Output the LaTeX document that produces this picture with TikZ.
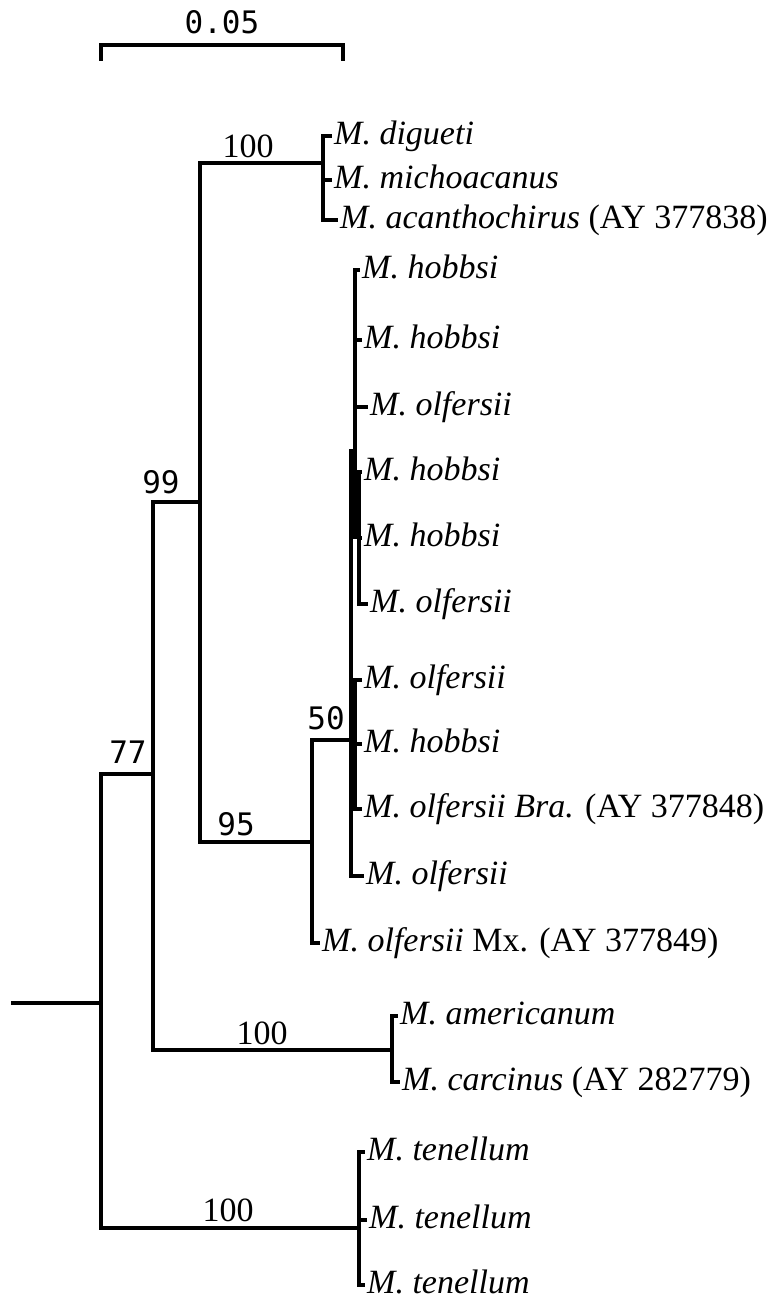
\documentclass[tikz,border=0pt]{standalone}
\usepackage{fontspec}
\setmainfont{Liberation Serif}
\newfontfamily\monofnt{DejaVu Sans Mono}
\begin{document}
\begin{tikzpicture}[x=1pt,y=-1pt,
  br/.style={line width=3.4pt,line cap=rect,line join=miter},
  leaf/.style={anchor=west,inner xsep=4pt,inner ysep=0pt,font=\fontsize{34}{38}\selectfont,text height=22pt,text depth=6pt},
  bsm/.style={font=\monofnt\fontsize{31}{34}\selectfont,inner sep=0pt},
  bss/.style={font=\fontsize{34}{36}\selectfont,inner sep=0pt}]
\useasboundingbox (0,0) rectangle (774,1301);
% scale bar
\coordinate (sb1) at (101,45); \coordinate (sb2) at (343,45);
\draw[br] ([yshift=-14]sb1) -- (sb1) -- (sb2) -- ([yshift=-14]sb2);
\node[bsm] (sbl) at (222,22) {0.05};
% internal nodes
\coordinate (rs) at (13,1003);
\coordinate (r) at (101,1003);
\coordinate (n77) at (153,774);
\coordinate (n99) at (200,502);
\coordinate (dig) at (323,163);
\coordinate (n95) at (312,842);
\coordinate (n50) at (351,740);
\coordinate (A) at (355,451);
\coordinate (A2) at (359,537);
\coordinate (B) at (355,743);
\coordinate (amer) at (392,1050);
\coordinate (ten) at (359,1228);
% leaves
\node[leaf] (l1) at (330,136) {\textit{M. digueti}};
\node[leaf] (l2) at (330,180) {\textit{M. michoacanus}};
\node[leaf] (l3) at (336,220) {\textit{M. acanthochirus} (AY 377838)};
\node[leaf] (h1) at (358,270) {\textit{M. hobbsi}};
\node[leaf] (h2) at (360,340) {\textit{M. hobbsi}};
\node[leaf] (h3) at (366,407) {\textit{M. olfersii}};
\node[leaf] (h4) at (360,472) {\textit{M. hobbsi}};
\node[leaf] (h5) at (360,538) {\textit{M. hobbsi}};
\node[leaf] (h6) at (366,604) {\textit{M. olfersii}};
\node[leaf] (b1) at (360,680) {\textit{M. olfersii}};
\node[leaf] (b2) at (360,744) {\textit{M. hobbsi}};
\node[leaf] (b3) at (360,809) {\textit{M. olfersii Bra.} (AY 377848)};
\node[leaf] (o1) at (362,876) {\textit{M. olfersii}};
\node[leaf] (mx) at (318,943) {\textit{M. olfersii} Mx. (AY 377849)};
\node[leaf] (am1) at (396,1016) {\textit{M. americanum}};
\node[leaf] (am2) at (398,1082) {\textit{M. carcinus} (AY 282779)};
\node[leaf] (t1) at (363,1152) {\textit{M. tenellum}};
\node[leaf] (t2) at (365,1220) {\textit{M. tenellum}};
\node[leaf] (t3) at (363,1285) {\textit{M. tenellum}};
% branches
\draw[br] (rs) -- (r);
\draw[br] (r) |- (n77);
\draw[br] (r) |- (ten);
\draw[br] (n77) |- (n99);
\draw[br] (n77) |- (amer);
\draw[br] (n99) |- (dig);
\draw[br] (n99) |- (n95);
\draw[br] (dig) |- (l1.west);
\draw[br] (dig) |- (l2.west);
\draw[br] (dig) |- (l3.west);
\draw[br] (n95) |- (n50);
\draw[br] (n95) |- (mx.west);
\draw[br] (n50) |- (A);
\draw[br] (n50) |- (B);
\draw[br] (n50) |- (o1.west);
\draw[br] (A) |- (h1.west);
\draw[br] (A) |- (h2.west);
\draw[br] (A) |- (h3.west);
\draw[br] (A) |- (A2);
\draw[br] (A2) |- (h4.west);
\draw[br] (A2) |- (h5.west);
\draw[br] (A2) |- (h6.west);
\draw[br] (B) |- (b1.west);
\draw[br] (B) |- (b2.west);
\draw[br] (B) |- (b3.west);
\draw[br] (amer) |- (am1.west);
\draw[br] (amer) |- (am2.west);
\draw[br] (ten) |- (t1.west);
\draw[br] (ten) |- (t2.west);
\draw[br] (ten) |- (t3.west);
% bootstrap labels
\node[bss] (s1) at (248,146) {100};
\node[bsm] (s2) at (161,482) {99};
\node[bsm] (s3) at (128,752) {77};
\node[bsm] (s4) at (236,824) {95};
\node[bsm] (s5) at (326,718) {50};
\node[bss] (s6) at (262,1033) {100};
\node[bss] (s7) at (228,1210) {100};
\end{tikzpicture}
\end{document}
